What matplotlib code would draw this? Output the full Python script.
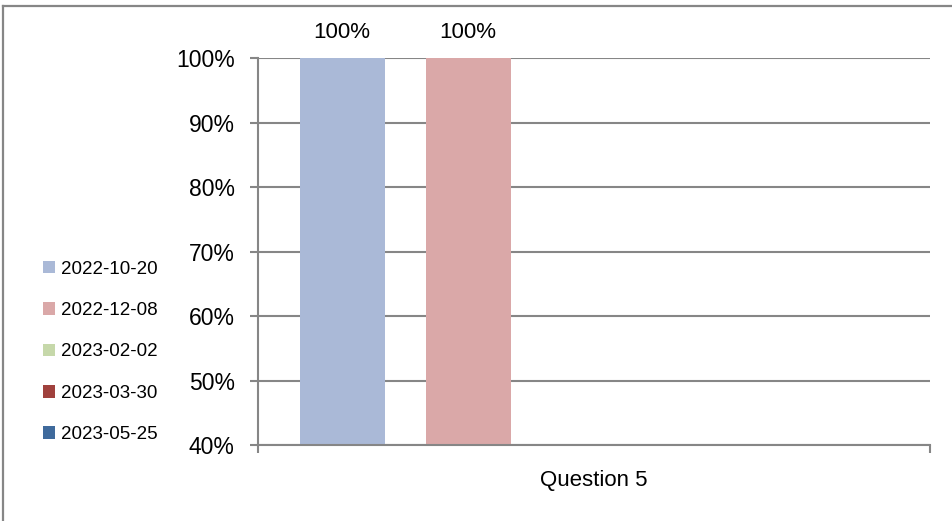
import numpy as np
import matplotlib.pyplot as plt
from matplotlib.patches import Patch
from matplotlib.lines import Line2D
from matplotlib.ticker import PercentFormatter

plt.rcParams['font.family'] = ['Liberation Sans', 'DejaVu Sans']

# данные
categories = ['Question 5']
series_names = ['2022-10-20', '2022-12-08', '2023-02-02', '2023-03-30', '2023-05-25']
series_values = [1.00, 1.00, np.nan, np.nan, np.nan]
series_colors = ['#aab9d7', '#daa8a8', '#c6d8aa', '#a0413d', '#3f6a9c']
y_ticks = [0.4, 0.5, 0.6, 0.7, 0.8, 0.9, 1.0]

W, H = 953, 521
fig = plt.figure(figsize=(W / 100, H / 100), dpi=100)
ax = fig.add_axes([258 / W, (H - 445) / H, 672 / W, 387 / H])

grey = '#868686'
n = len(series_names)
step = 126 / 672
width = 85 / 672
for i, (name, val, col) in enumerate(zip(series_names, series_values, series_colors)):
    x = (i - (n - 1) / 2) * step
    if np.isnan(val):
        continue
    ax.bar(x, val, width=width, color=col, zorder=2)
    ax.annotate(f'{val:.0%}', (x, val), xytext=(0, 18.5), textcoords='offset points',
                ha='center', va='center', fontsize=16, annotation_clip=False)

ax.set_xlim(-0.5, 0.5)
ax.set_ylim(0.4, 1.0)
ax.set_yticks(y_ticks)
ax.yaxis.set_major_formatter(PercentFormatter(1.0, decimals=0))
ax.set_xticks([-0.5, 0.5])
ax.set_xticklabels([])
ax.tick_params(axis='y', direction='out', length=5.8, width=1.5, color=grey,
               labelsize=16.5, pad=11)
ax.tick_params(axis='x', direction='out', length=5.8, width=1.5, color=grey)
ax.yaxis.grid(True, color=grey, linewidth=1.5, zorder=0)
ax.set_axisbelow(True)
for s in ['top', 'right']:
    ax.spines[s].set_visible(False)
for s in ['left', 'bottom']:
    ax.spines[s].set_color(grey)
    ax.spines[s].set_linewidth(1.5)

ax.text(0, -0.092, categories[0], transform=ax.get_xaxis_transform(),
        ha='center', va='center', fontsize=16)

handles = [Patch(facecolor=c, label=l) for l, c in zip(series_names, series_colors)]
fig.legend(handles=handles, loc='center left', bbox_to_anchor=(26 / W, 1 - 352 / H),
           frameon=False, fontsize=13.5, handlelength=0.65, handleheight=0.65,
           handletextpad=0.3, labelspacing=1.3)

# рамка диаграммы
fig.add_artist(Line2D([3.5 / W, 1], [1 - 5.5 / H, 1 - 5.5 / H], color=grey, lw=1.6,
                      transform=fig.transFigure))
fig.add_artist(Line2D([3.5 / W, 3.5 / W], [0, 1 - 5.5 / H], color=grey, lw=1.6,
                      transform=fig.transFigure))

fig.savefig('out.png', dpi=100)
